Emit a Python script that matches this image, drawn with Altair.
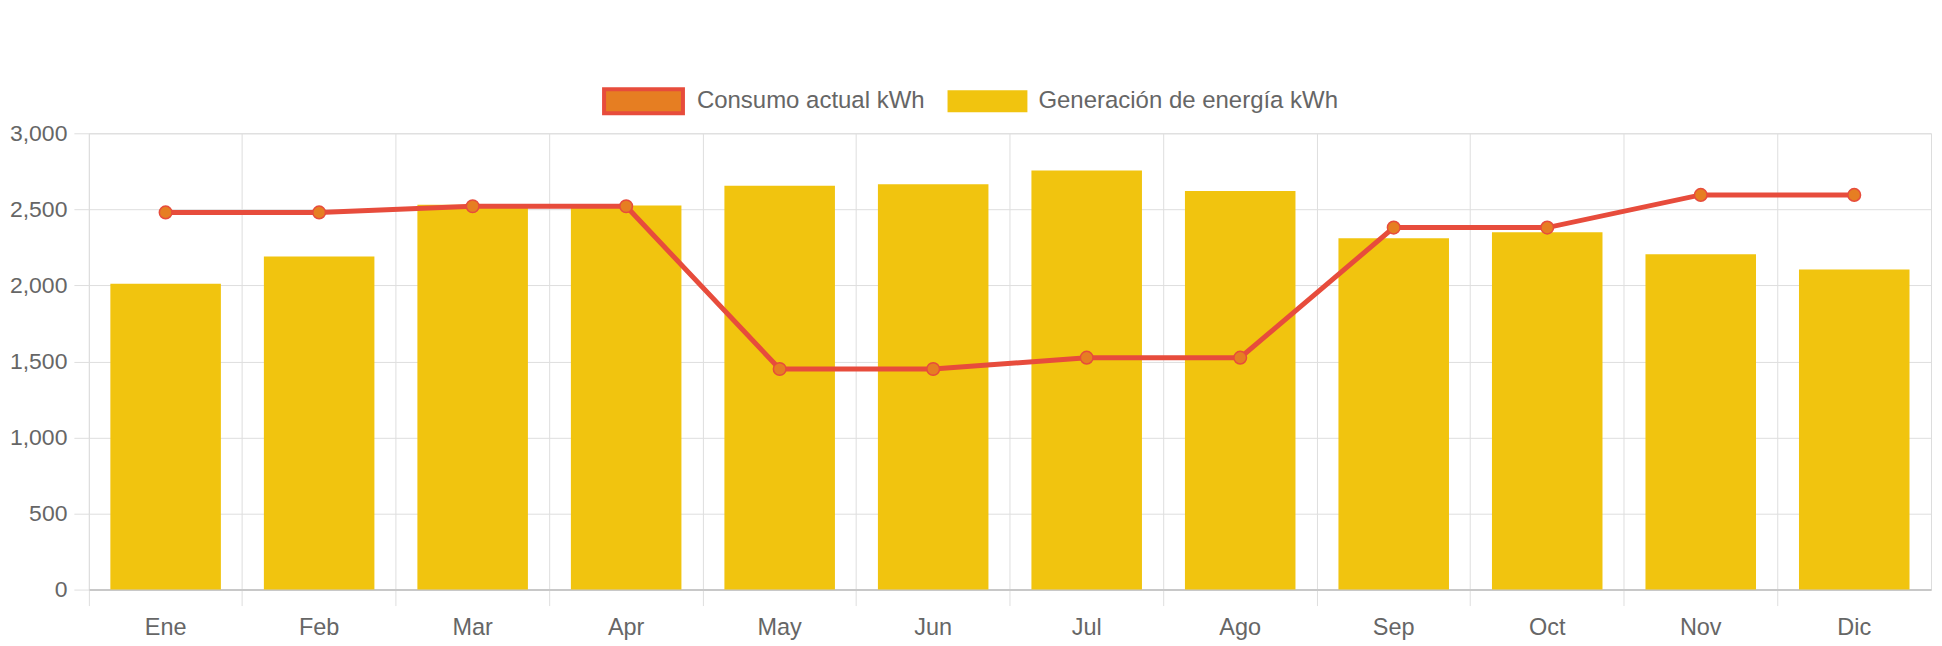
import altair as alt
import pandas as pd

meses = ["Ene", "Feb", "Mar", "Apr", "May", "Jun", "Jul", "Ago", "Sep", "Oct", "Nov", "Dic"]
generacion = [2010, 2190, 2530, 2525, 2655, 2665, 2755, 2620, 2310, 2350, 2205, 2105]
consumo = [2480, 2480, 2520, 2520, 1450, 1450, 1525, 1525, 2380, 2380, 2595, 2595]
serie_nombres = ["Consumo actual kWh", "Generación de energía kWh"]

df = pd.DataFrame({"mes": meses, "generacion": generacion, "consumo": consumo})

W = 1845
H = 457
FONT = "Liberation Sans"
GRID = "#dedede"
TXT = "#666666"

x_enc = alt.X(
    "mes:N",
    sort=meses,
    title=None,
    scale=alt.Scale(paddingInner=0, paddingOuter=0),
    axis=alt.Axis(
        bandPosition=0,
        labelAngle=0,
        labelFont=FONT,
        labelFontSize=23.5,
        labelColor=TXT,
        labelPadding=10,
        tickSize=16,
        tickColor=GRID,
        tickWidth=1,
        grid=True,
        gridColor=GRID,
        gridWidth=1,
        domainColor="#c8c8c8",
        domainWidth=2,
    ),
)

y_enc = alt.Y(
    "generacion:Q",
    title=None,
    scale=alt.Scale(domain=[0, 3000], nice=False),
    axis=alt.Axis(
        values=[0, 500, 1000, 1500, 2000, 2500, 3000],
        format=",.0f",
        labelFont=FONT,
        labelFontSize=23,
        labelColor=TXT,
        labelPadding=7,
        tickSize=15,
        tickColor=GRID,
        grid=True,
        gridColor=GRID,
        domain=False,
    ),
)

bars = alt.Chart(df).mark_bar(color="#F1C40F", width=alt.RelativeBandSize(0.72)).encode(
    x=x_enc, y=y_enc
)

line = alt.Chart(df).mark_line(color="#E74C3C", strokeWidth=5).encode(
    x=alt.X("mes:N", sort=meses), y=alt.Y("consumo:Q")
)

points = alt.Chart(df).mark_point(
    shape="circle", filled=True, fill="#E67E22", stroke="#E74C3C", strokeWidth=1.5, size=160, opacity=1
).encode(x=alt.X("mes:N", sort=meses), y=alt.Y("consumo:Q"))

# legend (drawn manually, above plot area)
leg_df = pd.DataFrame({"nombre": serie_nombres})
leg1_box = alt.Chart(leg_df.iloc[[0]]).mark_rect(
    fill="#E67E22", stroke="#E74C3C", strokeWidth=4
).encode(x=alt.value(516), x2=alt.value(595), y=alt.value(-44), y2=alt.value(-20))
leg1_txt = alt.Chart(leg_df.iloc[[0]]).mark_text(
    align="left", baseline="middle", font=FONT, fontSize=24, color=TXT
).encode(x=alt.value(609), y=alt.value(-32), text="nombre:N")
leg2_box = alt.Chart(leg_df.iloc[[1]]).mark_rect(fill="#F1C40F").encode(
    x=alt.value(860), x2=alt.value(940), y=alt.value(-43), y2=alt.value(-21)
)
leg2_txt = alt.Chart(leg_df.iloc[[1]]).mark_text(
    align="left", baseline="middle", font=FONT, fontSize=24, color=TXT
).encode(x=alt.value(951), y=alt.value(-32), text="nombre:N")

chart = (
    alt.layer(bars, line, points, leg1_box, leg1_txt, leg2_box, leg2_txt)
    .properties(
        width=W,
        height=H,
        autosize=alt.AutoSizeParams(type="none"),
        padding={"left": 81, "top": 125, "right": 3, "bottom": 50},
    )
    .configure_view(stroke=GRID, strokeWidth=1)
    .configure(background="white")
)

chart.save("out.html", embed_options={"renderer": "svg", "actions": False})
